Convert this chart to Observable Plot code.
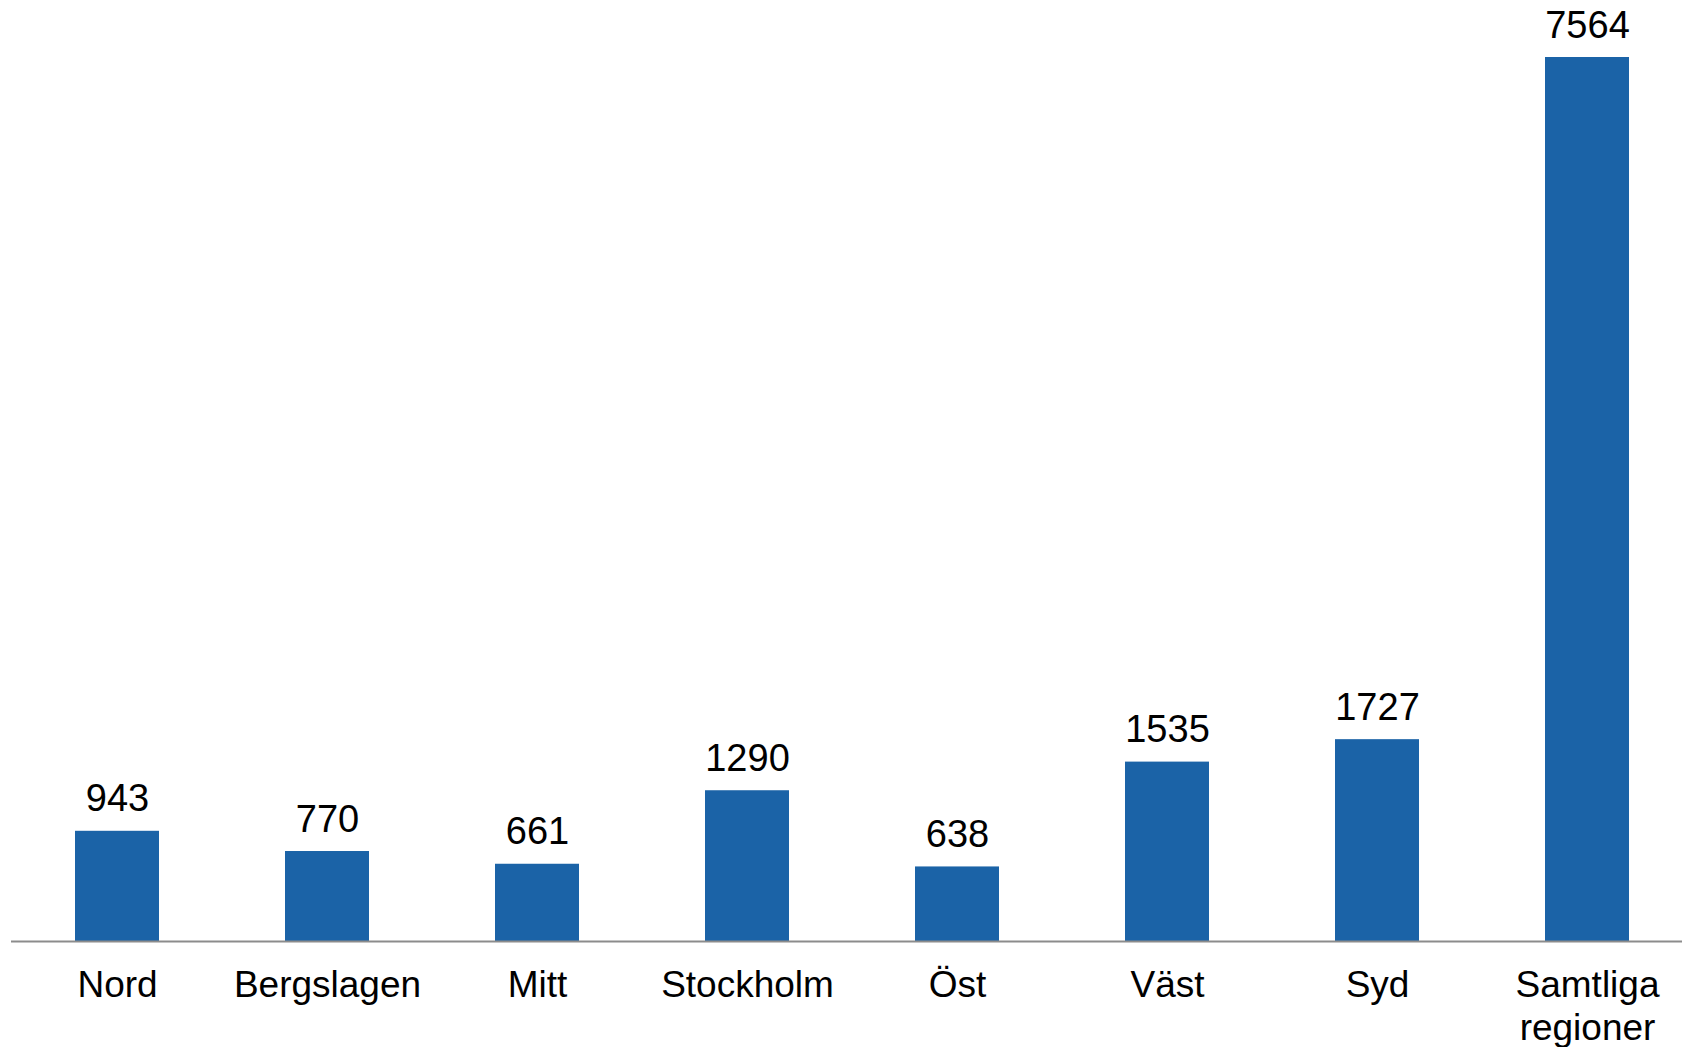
<!DOCTYPE html>
<html><head><meta charset="utf-8">
<script src="https://cdn.jsdelivr.net/npm/d3@7"></script>
<script src="https://cdn.jsdelivr.net/npm/@observablehq/plot@0.6"></script>
<style>html,body{margin:0;padding:0;background:#fff;overflow:hidden}</style>
</head><body><div id="chart"></div>
<script>
const categories = ["Nord", "Bergslagen", "Mitt", "Stockholm", "Öst", "Väst", "Syd", "Samtliga regioner"];
const values = [943, 770, 661, 1290, 638, 1535, 1727, 7564];
const tickLabels = ["Nord", "Bergslagen", "Mitt", "Stockholm", "Öst", "Väst", "Syd", "Samtliga\nregioner"];

const data = categories.map((c, i) => ({category: c, value: values[i]}));
const labelOf = new Map(categories.map((c, i) => [c, tickLabels[i]]));

const chart = Plot.plot({
  width: 1682,
  height: 1047,
  marginLeft: 11,
  marginRight: 0,
  marginTop: 57,
  marginBottom: 106,
  style: {fontFamily: "'Liberation Sans', Arial, sans-serif", fontSize: "37px", color: "#000", background: "#fff"},
  x: {domain: categories, range: [12, 1692], paddingInner: 0.6, paddingOuter: 0.3, label: null},
  y: {domain: [0, 7564], axis: null},
  marks: [
    Plot.barY(data, {x: "category", y: "value", fill: "#1b63a7"}),
    Plot.ruleY([0], {stroke: "#8c8c8c", strokeWidth: 2}),
    Plot.text(data, {x: "category", y: "value", text: d => String(d.value), lineAnchor: "bottom", dy: -20, fontSize: 38, fill: "#000"}),
    Plot.axisX({tickSize: 0, tickPadding: 25, fontSize: 37, lineHeight: 1.16, tickFormat: d => labelOf.get(d), label: null, fill: "#000"})
  ]
});
document.getElementById("chart").appendChild(chart);
</script>
</body></html>
